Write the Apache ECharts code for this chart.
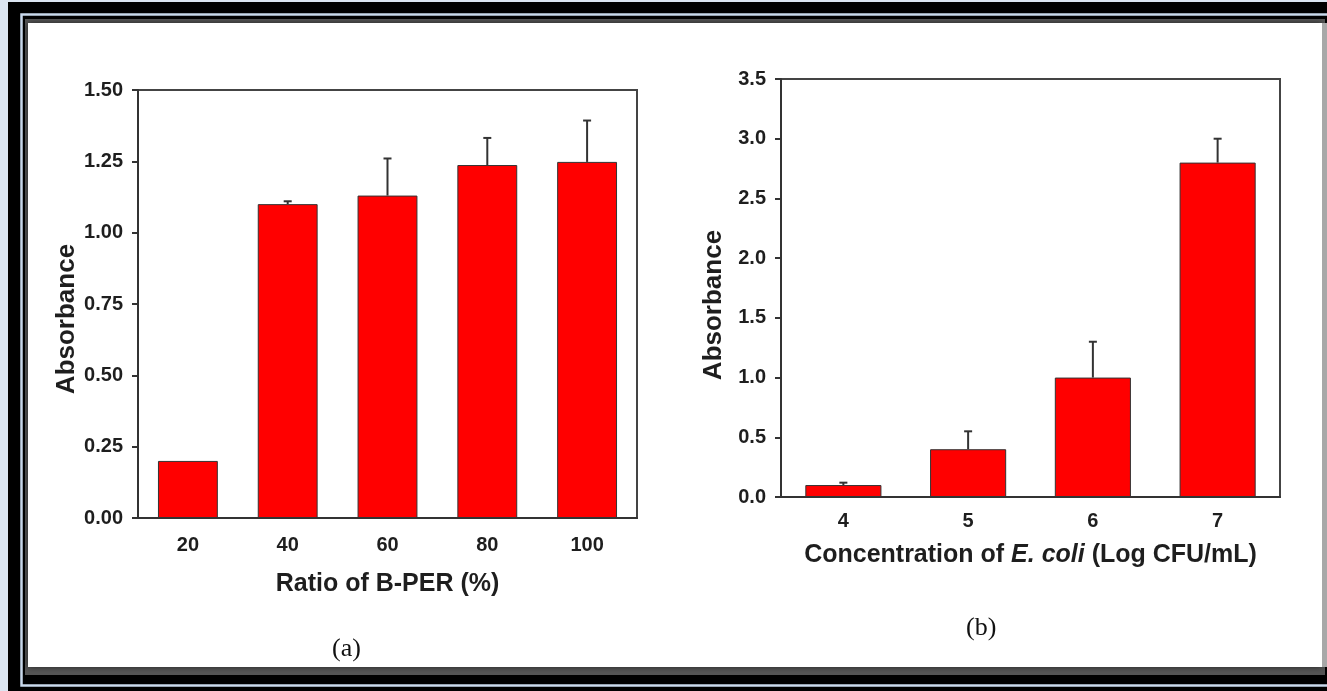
<!DOCTYPE html>
<html>
<head>
<meta charset="utf-8">
<script src="https://cdn.jsdelivr.net/npm/echarts@6/dist/echarts.min.js"></script>
<style>
html,body{margin:0;padding:0;background:#dbe5f1;}
#c{width:1327px;height:691px;}
</style>
</head>
<body>
<div id="c"></div>
<script>
// Panel (a): ratio of B-PER
const catA = ['20', '40', '60', '80', '100'];
const valA = [0.20, 1.10, 1.13, 1.237, 1.248];
const errA = [0.0, 0.01, 0.13, 0.095, 0.145];
// Panel (b): concentration of E. coli
const catB = ['4', '5', '6', '7'];
const valB = [0.10, 0.40, 1.00, 2.80];
const errB = [0.02, 0.15, 0.30, 0.20];

const FONT = '"Liberation Sans", Arial, sans-serif';
const AX = '#333';

function errData(vals, errs) {
  return vals.map((v, i) => [i, v, v + errs[i]]);
}
function errRender(params, api) {
  const x = api.value(0);
  if (api.value(2) - api.value(1) <= 0) return null;
  const p0 = api.coord([x, api.value(1)]);
  const p1 = api.coord([x, api.value(2)]);
  const cap = 4;
  return {
    type: 'group',
    children: [
      {type: 'line', shape: {x1: p0[0], y1: p0[1], x2: p1[0], y2: p1[1]}, style: {stroke: '#333', lineWidth: 2}},
      {type: 'line', shape: {x1: p1[0] - cap, y1: p1[1], x2: p1[0] + cap, y2: p1[1]}, style: {stroke: '#333', lineWidth: 2}}
    ]
  };
}
function xAxisCfg(idx, cats, name, gap, margin, rich) {
  return {
    type: 'category', gridIndex: idx, data: cats,
    axisLine: {lineStyle: {color: AX, width: 2}},
    axisTick: {alignWithLabel: true, length: 7, lineStyle: {color: AX, width: 2}},
    axisLabel: {color: '#1e1e1e', fontFamily: FONT, fontWeight: 'bold', fontSize: 20, margin: margin},
    name: name, nameLocation: 'middle', nameGap: gap,
    nameTextStyle: Object.assign({color: '#1e1e1e', fontFamily: FONT, fontWeight: 'bold', fontSize: 25}, rich ? {rich: rich} : {})
  };
}
function yAxisCfg(idx, max, interval, dec, gap, pad) {
  return {
    type: 'value', gridIndex: idx, min: 0, max: max, interval: interval,
    splitLine: {show: false},
    axisLine: {show: true, lineStyle: {color: AX, width: 2}},
    axisTick: {show: true, length: 6, lineStyle: {color: AX, width: 2}},
    axisLabel: {color: '#1e1e1e', fontFamily: FONT, fontWeight: 'bold', fontSize: 20, margin: 15,
      formatter: v => v.toFixed(dec)},
    name: 'Absorbance', nameLocation: 'middle', nameGap: gap, nameRotate: 90,
    nameTextStyle: {color: '#1e1e1e', fontFamily: FONT, fontWeight: 'bold', fontSize: 26, padding: [0, pad, 0, 0]}
  };
}

const chart = echarts.init(document.getElementById('c'), null, {renderer: 'canvas'});
const nameStyle = {color: '#1e1e1e', fontFamily: FONT, fontWeight: 'bold', fontSize: 25};
chart.setOption({
  backgroundColor: '#dbe5f1',
  animation: false,
  graphic: [
    {type: 'rect', z: -10, shape: {x: 8, y: 2, width: 1400, height: 700}, style: {fill: '#000'}},
    {type: 'rect', z: -9, shape: {x: 21.5, y: 14.5, width: 1400, height: 671}, style: {fill: 'none', stroke: '#c9d9ec', lineWidth: 2.5}},
    {type: 'rect', z: -8, shape: {x: 25, y: 19, width: 1300, height: 656}, style: {fill: '#555'}},
    {type: 'rect', z: -7, shape: {x: 28, y: 23, width: 1294, height: 644}, style: {fill: '#fff', shadowBlur: 6, shadowColor: 'rgba(0,0,0,0.6)'}},
    {type: 'rect', z: -6, shape: {x: 1322, y: 23, width: 6, height: 644}, style: {fill: '#a8a8a8'}},
    {type: 'text', left: 332, top: 636, style: {text: '(a)', fill: '#111', font: '26px "Liberation Serif", "DejaVu Serif", serif'}},
    {type: 'text', left: 966, top: 615, style: {text: '(b)', fill: '#111', font: '26px "Liberation Serif", "DejaVu Serif", serif'}}
  ],
  grid: [
    {left: 138, top: 90, width: 499, height: 428, show: true, borderColor: '#444', borderWidth: 2, backgroundColor: '#fff'},
    {left: 781, top: 79, width: 499, height: 418, show: true, borderColor: '#444', borderWidth: 2, backgroundColor: '#fff'}
  ],
  xAxis: [
    xAxisCfg(0, catA, 'Ratio of B-PER (%)', 54, 17),
    xAxisCfg(1, catB, '{n|Concentration of }{i|E. coli}{n| (Log CFU/mL)}', 46, 14, {
      n: nameStyle,
      i: Object.assign({}, nameStyle, {fontStyle: 'italic'})
    })
  ],
  yAxis: [
    yAxisCfg(0, 1.5, 0.25, 2, 56, 30),
    yAxisCfg(1, 3.5, 0.5, 1, 54, 34)
  ],
  series: [
    {type: 'bar', xAxisIndex: 0, yAxisIndex: 0, data: valA, barWidth: '60%',
      itemStyle: {color: '#ff0000', borderColor: '#333', borderWidth: 1}},
    {type: 'custom', xAxisIndex: 0, yAxisIndex: 0, data: errData(valA, errA), renderItem: errRender, z: 1},
    {type: 'bar', xAxisIndex: 1, yAxisIndex: 1, data: valB, barWidth: '61%',
      itemStyle: {color: '#ff0000', borderColor: '#333', borderWidth: 1}},
    {type: 'custom', xAxisIndex: 1, yAxisIndex: 1, data: errData(valB, errB), renderItem: errRender, z: 1}
  ]
});
</script>
</body>
</html>
